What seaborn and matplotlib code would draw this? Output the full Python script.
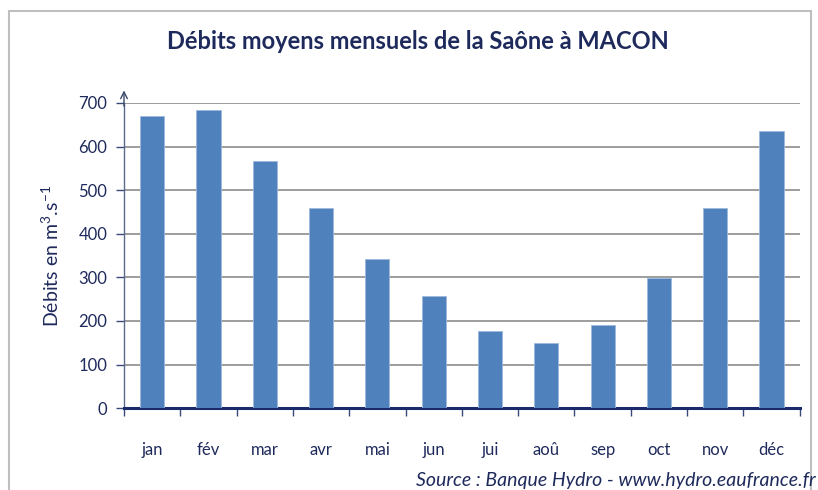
import matplotlib
matplotlib.use("Agg")
import matplotlib.pyplot as plt
import matplotlib.patches as mpatches
import seaborn as sns
import pandas as pd

months = ["jan", "fév", "mar", "avr", "mai", "jun", "jui", "aoû", "sep", "oct", "nov", "déc"]
debits = [670, 683, 566, 458, 341, 257, 177, 149, 191, 298, 458, 636]
y_ticks = [0, 100, 200, 300, 400, 500, 600, 700]

NAVY = "#1f2a5c"
BAR = "#4f81bd"

sns.set_theme(style="white")
plt.rcParams["font.family"] = ["Lato", "DejaVu Sans"]
plt.rcParams["mathtext.default"] = "regular"

df = pd.DataFrame({"mois": months, "debit": debits})

fig = plt.figure(figsize=(8.18, 4.90), dpi=100)
ax = fig.add_axes([0.1516, 0.167, 0.826, 0.623])

sns.barplot(data=df, x="mois", y="debit", color=BAR, width=0.43,
            saturation=1, edgecolor="#9db8dc", linewidth=0.6, ax=ax, zorder=3)

ax.set_ylim(0, 700)
ax.set_xlim(-0.5, 11.5)
ax.set_yticks(y_ticks)
ax.yaxis.grid(True, color="#8c8c8c", linewidth=1.2, zorder=0)
ax.set_axisbelow(True)

for s in ["top", "right"]:
    ax.spines[s].set_visible(False)
ax.spines["left"].set_color("#5a6a8a")
ax.spines["left"].set_linewidth(1.0)
ax.spines["bottom"].set_color("#1a2a6a")
ax.spines["bottom"].set_linewidth(2.2)

# arrow on top of y axis
ax.annotate("", xy=(0, 1.05), xytext=(0, 0.98), xycoords="axes fraction",
            arrowprops=dict(arrowstyle="->", color="#3a4a6a", lw=1.0))

ax.tick_params(axis="y", which="major", left=True, length=6, width=1,
               color="#3a4a7a", labelsize=12, labelcolor=NAVY, pad=6)
ax.set_xticks(range(len(months)))
ax.set_xticklabels(months)
ax.tick_params(axis="x", which="major", bottom=False, labelsize=12,
               labelcolor=NAVY, pad=18)
# tick marks between categories
ax.set_xticks([i + 0.5 for i in range(-1, len(months))], minor=True)
ax.tick_params(axis="x", which="minor", bottom=True, length=6, width=1,
               color="#3a4a7a")

ax.set_xlabel("")
ax.set_ylabel("Débits en m$^3$.s$^{-1}$", fontsize=14, color=NAVY, labelpad=12)

fig.text(0.511, 0.915, "Débits moyens mensuels de la Saône à MACON",
         ha="center", va="center", fontsize=17, fontweight="bold", color=NAVY)
fig.text(0.508, 0.02, "Source : Banque Hydro - www.hydro.eaufrance.fr",
         ha="left", va="center", fontsize=14, style="italic", color=NAVY)

frame = mpatches.Rectangle((0.011, -0.1), 0.98, 1.077, transform=fig.transFigure,
                           fill=False, edgecolor="#bfbfbf", linewidth=1.5)
fig.patches.append(frame)

fig.savefig("out.png", dpi=100)
